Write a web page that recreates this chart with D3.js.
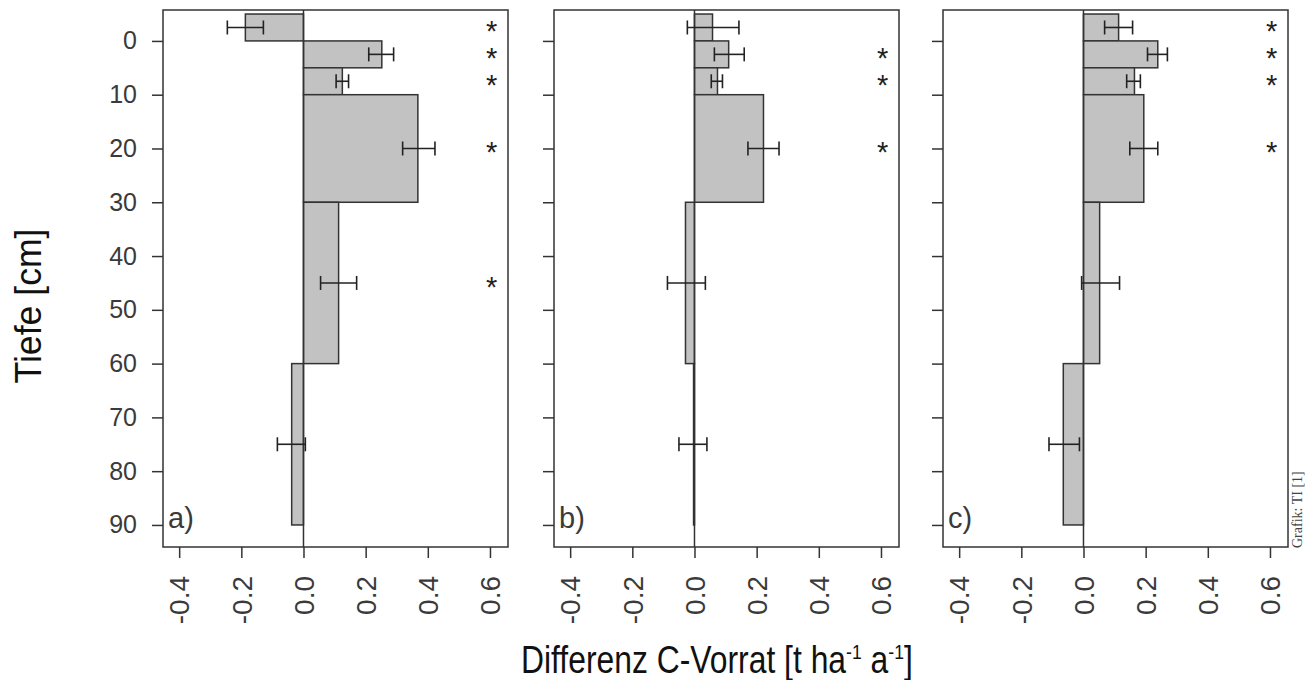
<!DOCTYPE html>
<html>
<head>
<meta charset="utf-8">
<script src="https://cdn.jsdelivr.net/npm/d3@7"></script>
<style>
  body { margin: 0; background: #fff; }
  svg { display: block; }
</style>
</head>
<body>
<svg width="1310" height="680"></svg>
<script>
// soil layers (cm), negative = organic layer
var depthTop = [-5, 0, 5, 10, 30, 60]
var depthBottom = [0, 5, 10, 30, 60, 90]

var panelNames = ['a)', 'b)', 'c)']
var valuesA = [-0.187, 0.252, 0.125, 0.368, 0.113, -0.038]
var valuesB = [0.058, 0.110, 0.074, 0.222, -0.029, -0.003]
var valuesC = [0.113, 0.239, 0.164, 0.194, 0.052, -0.065]

// error bar centre and half width
var errMidA = [-0.187, 0.250, 0.125, 0.371, 0.113, -0.039]
var errMidB = [0.060, 0.112, 0.072, 0.222, -0.026, -0.005]
var errMidC = [0.113, 0.238, 0.161, 0.194, 0.055, -0.062]
var errHalfA = [0.058, 0.040, 0.020, 0.052, 0.058, 0.045]
var errHalfB = [0.083, 0.048, 0.018, 0.050, 0.061, 0.045]
var errHalfC = [0.045, 0.032, 0.022, 0.045, 0.061, 0.049]

// significance marks
var sigA = [1, 1, 1, 1, 1, 0]
var sigB = [0, 1, 1, 1, 0, 0]
var sigC = [1, 1, 1, 1, 0, 0]

var depthTicks = [0, 10, 20, 30, 40, 50, 60, 70, 80, 90]
var valueTicks = [-0.4, -0.2, 0.0, 0.2, 0.4, 0.6]
var starPos = 0.605

var panels = [
  {name: panelNames[0], v: valuesA, m: errMidA, h: errHalfA, s: sigA},
  {name: panelNames[1], v: valuesB, m: errMidB, h: errHalfB, s: sigB},
  {name: panelNames[2], v: valuesC, m: errMidC, h: errHalfC, s: sigC}
]

var svg = d3.select('svg')
var ink = '#333'
var plotTop = 10, plotBottom = 547
var lefts = [163, 554, 943]
var boxW = 345
var sans = 'Liberation Sans, Arial, sans-serif'

var y = d3.scaleLinear().domain([-5.75, 94.1]).range([plotTop, plotBottom])
var fmt = function(d) { return d3.format('.1f')(d).replace('\u2212', '-') }

panels.forEach(function(p, k) {
  var x = d3.scaleLinear().domain([-0.452, 0.658]).range([lefts[k], lefts[k] + boxW])
  var g = svg.append('g')
  var layers = d3.range(depthTop.length)
  var mid = function(i) { return y((depthTop[i] + depthBottom[i]) / 2) }

  // bars
  g.selectAll('rect.bar')
    .data(layers)
    .join('rect')
    .attr('class', 'bar')
    .attr('x', function(i) { return Math.min(x(0), x(p.v[i])) })
    .attr('width', function(i) { return Math.abs(x(p.v[i]) - x(0)) })
    .attr('y', function(i) { return y(depthTop[i]) })
    .attr('height', function(i) { return y(depthBottom[i]) - y(depthTop[i]) })
    .attr('fill', '#c2c2c2')
    .attr('stroke', ink)
    .attr('stroke-width', 1.5)

  // zero line
  g.append('line')
    .attr('x1', x(0)).attr('x2', x(0))
    .attr('y1', plotTop).attr('y2', plotBottom)
    .attr('stroke', ink).attr('stroke-width', 1.5)

  // error bars
  var eb = g.selectAll('g.err')
    .data(layers)
    .join('g')
    .attr('class', 'err')
    .attr('stroke', '#222')
    .attr('stroke-width', 1.6)
  eb.append('line')
    .attr('x1', function(i) { return x(p.m[i] - p.h[i]) })
    .attr('x2', function(i) { return x(p.m[i] + p.h[i]) })
    .attr('y1', mid)
    .attr('y2', mid)
  ;[-1, 1].forEach(function(sgn) {
    eb.append('line')
      .attr('x1', function(i) { return x(p.m[i] + sgn * p.h[i]) })
      .attr('x2', function(i) { return x(p.m[i] + sgn * p.h[i]) })
      .attr('y1', function(i) { return mid(i) - 7 })
      .attr('y2', function(i) { return mid(i) + 7 })
  })

  // stars
  g.selectAll('text.star')
    .data(layers.filter(function(i) { return p.s[i] }))
    .join('text')
    .attr('class', 'star')
    .attr('x', x(starPos))
    .attr('y', function(i) { return mid(i) + 14 })
    .attr('text-anchor', 'middle')
    .attr('font-family', sans)
    .attr('font-size', 29)
    .attr('fill', '#222')
    .text('*')

  // box
  g.append('rect')
    .attr('x', lefts[k]).attr('y', plotTop)
    .attr('width', boxW).attr('height', plotBottom - plotTop)
    .attr('fill', 'none').attr('stroke', ink).attr('stroke-width', 1.5)

  // y axis
  var ya = g.append('g')
    .attr('transform', 'translate(' + lefts[k] + ',0)')
    .call(d3.axisLeft(y).tickValues(depthTicks).tickSize(11).tickSizeOuter(0)
      .tickFormat(k === 0 ? d3.format('d') : ''))
  ya.select('.domain').remove()
  ya.selectAll('line').attr('stroke', ink).attr('stroke-width', 1.5)
  ya.selectAll('text')
    .attr('x', -26)
    .attr('font-family', sans)
    .attr('font-size', 25)
    .attr('fill', '#3a3a3a')

  // x axis
  var xa = g.append('g')
    .attr('transform', 'translate(0,' + plotBottom + ')')
    .call(d3.axisBottom(x).tickValues(valueTicks).tickSize(11).tickSizeOuter(0)
      .tickFormat(fmt))
  xa.select('.domain').remove()
  xa.selectAll('line').attr('stroke', ink).attr('stroke-width', 1.5)
  xa.selectAll('text')
    .attr('transform', 'rotate(-90)')
    .attr('x', -29)
    .attr('y', 0)
    .attr('dy', '0.35em')
    .attr('text-anchor', 'end')
    .attr('font-family', sans)
    .attr('font-size', 28)
    .attr('fill', '#3a3a3a')

  // panel label
  g.append('text')
    .attr('x', lefts[k] + 5)
    .attr('y', 528)
    .attr('font-family', sans)
    .attr('font-size', 29)
    .attr('fill', '#3a3a3a')
    .text(p.name)
})

// axis titles, squeezed to the condensed look of the original
var yt = svg.append('text')
  .attr('text-anchor', 'middle')
  .attr('font-family', sans)
  .attr('font-size', 37)
  .attr('fill', '#111')
  .text('Tiefe [cm]')
var ySq = 155 / yt.node().getComputedTextLength()
yt.attr('transform', 'translate(41,306) rotate(-90) scale(' + ySq + ',1)')

var xt = svg.append('text')
  .attr('font-family', sans)
  .attr('font-size', 38)
  .attr('fill', '#111')
xt.append('tspan').text('Differenz C-Vorrat [t ha')
xt.append('tspan').attr('dy', -14).attr('font-size', 21).text('-1')
xt.append('tspan').attr('dy', 14).text(' a')
xt.append('tspan').attr('dy', -14).attr('font-size', 21).text('-1')
xt.append('tspan').attr('dy', 14).text(']')
var xSq = 392 / xt.node().getComputedTextLength()
xt.attr('transform', 'translate(521,673) scale(' + xSq + ',1)')

svg.append('text')
  .attr('transform', 'translate(1302,548) rotate(-90)')
  .attr('font-family', 'Liberation Serif, Times New Roman, serif')
  .attr('font-size', 14)
  .attr('fill', '#444')
  .text('Grafik: TI [1]')
</script>
</body>
</html>
